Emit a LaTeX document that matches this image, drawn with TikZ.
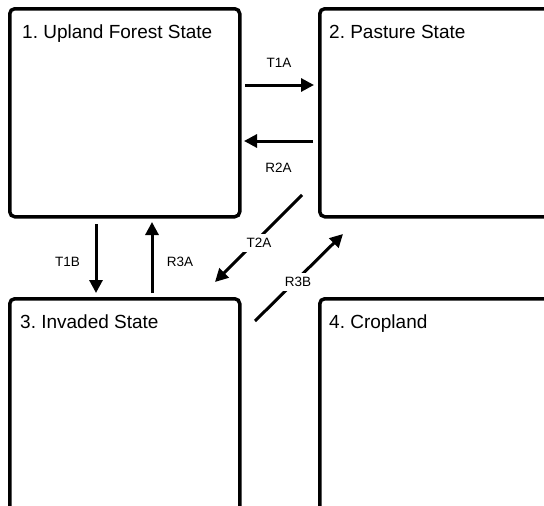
\documentclass[tikz,border=0pt]{standalone}
\usepackage{fontspec}
\setmainfont{Liberation Sans}
\usetikzlibrary{arrows.meta}
\frenchspacing
\begin{document}
\begin{tikzpicture}[x=1pt,y=1pt,
  box/.style={draw, line width=3.5pt, rounded corners=5pt, minimum width=#1, inner sep=0pt, anchor=north west},
  title/.style={font=\fontsize{19}{22}\selectfont, anchor=base west, inner sep=0pt},
  lab/.style={font=\fontsize{13.5}{16}\selectfont, inner sep=0pt},
  dlab/.style={font=\fontsize{13.5}{16}\selectfont, fill=white, inner sep=4pt},
  conn/.style={line width=3pt, -{Triangle[length=13pt,width=13pt]}}]
\useasboundingbox (0,0) rectangle (544,-506);
\clip (0,0) rectangle (544,-506);
% boxes
\node[box=230pt, minimum height=208pt] (b1) at (8,-7) {};
\node[box=250pt, minimum height=208pt] (b2) at (318,-7) {};
\node[box=230pt, minimum height=230pt] (b3) at (8,-297) {};
\node[box=250pt, minimum height=230pt] (b4) at (318,-297) {};
% titles
\node[title] (t1) at (22,-38) {1. Upland Forest State};
\node[title] (t2) at (329,-38) {2. Pasture State};
\node[title] (t3) at (20,-328) {3. Invaded State};
\node[title] (t4) at (329,-328) {4. Cropland};
% connector end points
\coordinate (a1s) at (245,-85);  \coordinate (a1e) at (314,-85);
\coordinate (a2s) at (313,-141); \coordinate (a2e) at (244,-141);
\coordinate (a3s) at (96,-224);  \coordinate (a3e) at (96,-293);
\coordinate (a4s) at (152,-293); \coordinate (a4e) at (152,-222);
\coordinate (a5s) at (302,-195); \coordinate (a5e) at (215,-282);
\coordinate (a6s) at (255,-321); \coordinate (a6e) at (343,-234);
% connectors
\draw[conn] (a1s) -- (a1e);
\draw[conn] (a2s) -- (a2e);
\draw[conn] (a3s) -- (a3e);
\draw[conn] (a4s) -- (a4e);
\draw[conn] (a5s) -- (a5e);
\draw[conn] (a6s) -- (a6e);
% labels
\node[lab] (l1) at (279,-63) {T1A};
\node[lab] (l2) at (278.5,-168) {R2A};
\node[lab] (l3) at (67.5,-262) {T1B};
\node[lab] (l4) at (180,-262) {R3A};
\node[dlab] (l5) at (259,-243) {T2A};
\node[dlab] (l6) at (298,-282) {R3B};
\end{tikzpicture}
\end{document}
